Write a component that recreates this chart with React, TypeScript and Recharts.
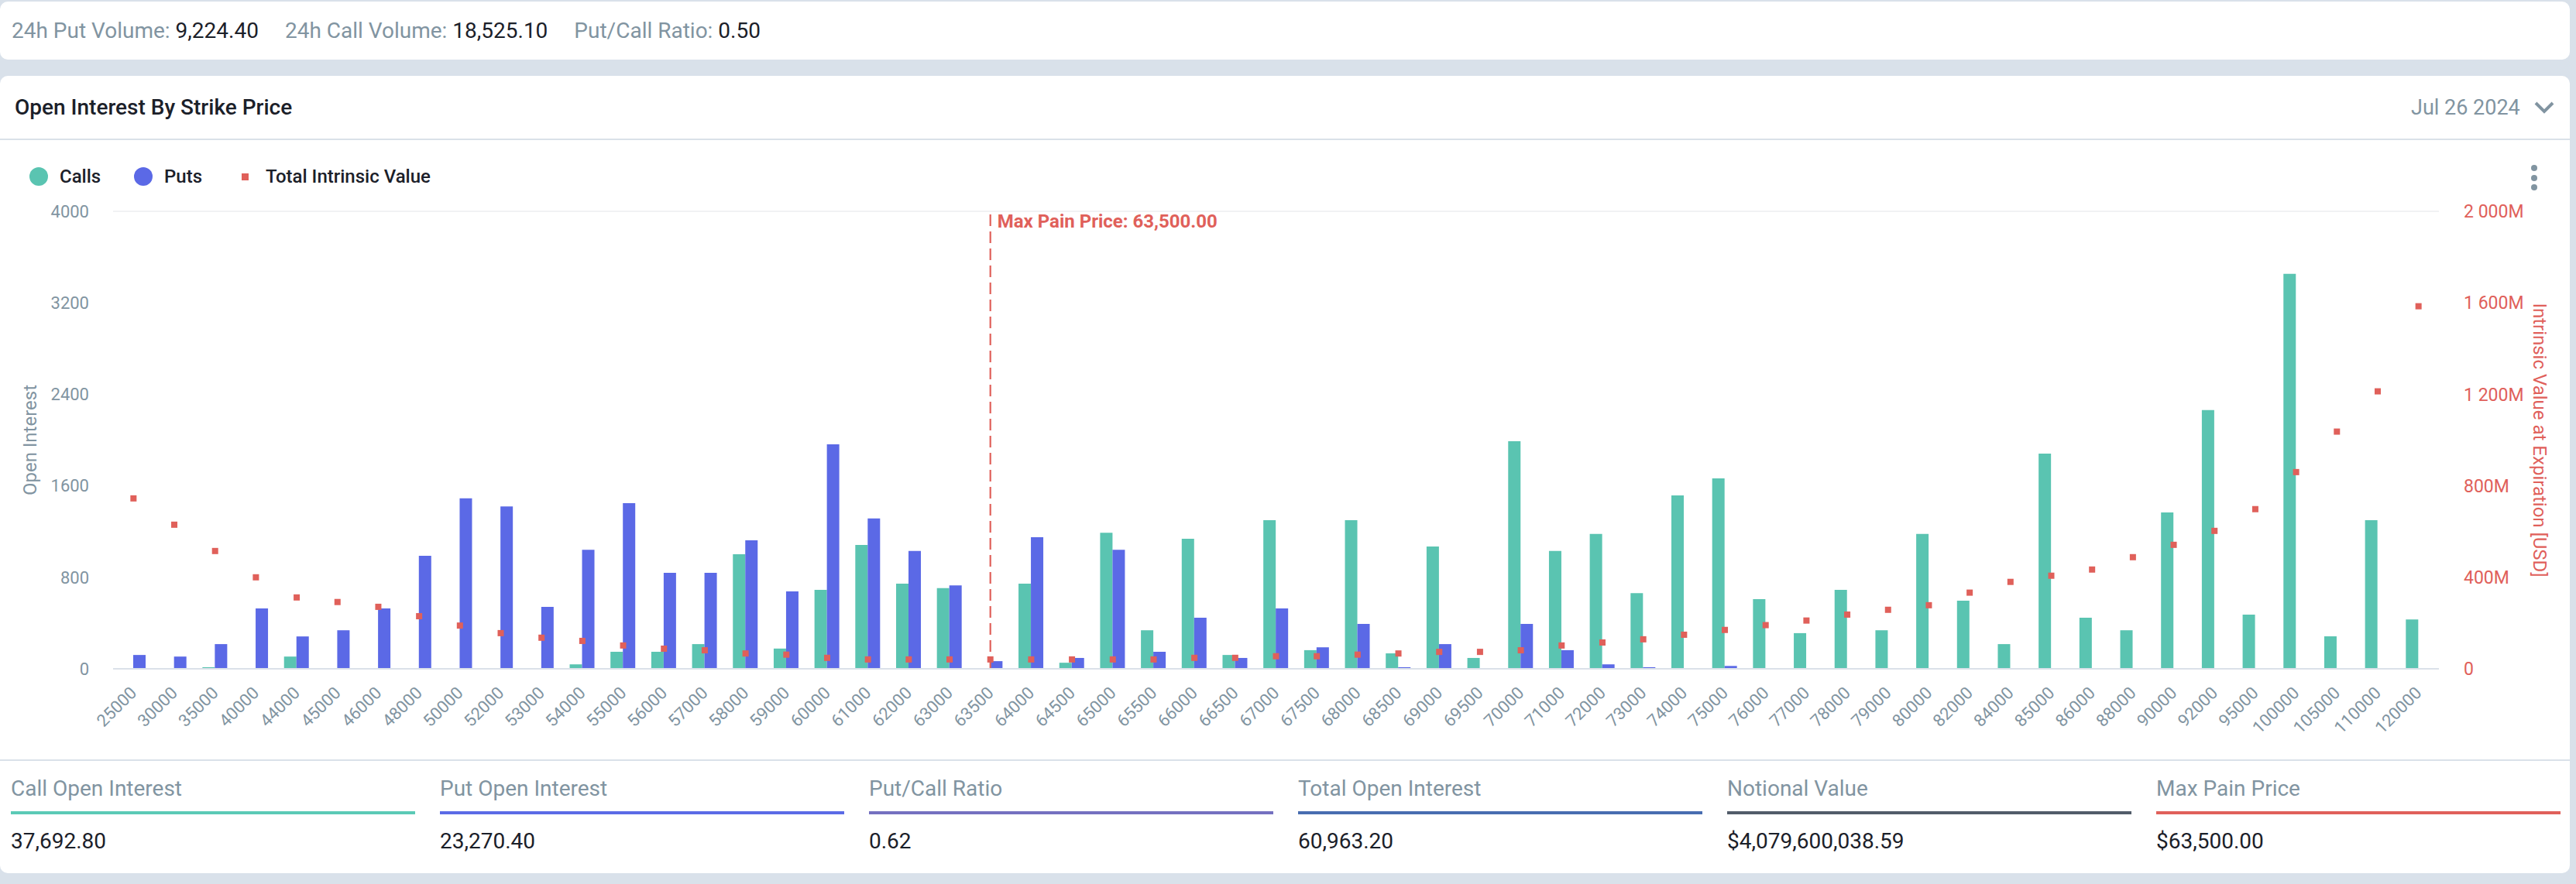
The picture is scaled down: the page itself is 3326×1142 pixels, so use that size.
import React from 'react';
import {
  ComposedChart,
  Bar,
  Scatter,
  XAxis,
  YAxis,
  CartesianGrid,
  ReferenceLine,
} from 'recharts';

const strikes = [
  '25000', '30000', '35000', '40000', '44000', '45000', '46000', '48000', '50000', '52000',
  '53000', '54000', '55000', '56000', '57000', '58000', '59000', '60000', '61000', '62000',
  '63000', '63500', '64000', '64500', '65000', '65500', '66000', '66500', '67000', '67500',
  '68000', '68500', '69000', '69500', '70000', '71000', '72000', '73000', '74000', '75000',
  '76000', '77000', '78000', '79000', '80000', '82000', '84000', '85000', '86000', '88000',
  '90000', '92000', '95000', '100000', '105000', '110000', '120000',
];

const calls = [
  0, 0, 14, 0, 107, 0, 0, 0, 0, 0,
  0, 39, 149, 149, 216, 1002, 177, 690, 1083, 744,
  705, 0, 744, 53, 1190, 337, 1137, 121, 1300, 163,
  1300, 135, 1069, 95, 1990, 1030, 1179, 662, 1516, 1665,
  609, 312, 690, 337, 1179, 595, 216, 1881, 446, 337,
  1367, 2262, 474, 3453, 284, 1300, 432,
];

const puts = [
  121, 107, 216, 528, 283, 337, 528, 988, 1490, 1420,
  542, 1041, 1448, 839, 839, 1123, 676, 1962, 1314, 1030,
  730, 67, 1151, 95, 1041, 149, 446, 95, 528, 188,
  393, 14, 216, 0, 393, 163, 39, 14, 0, 25,
  0, 0, 0, 0, 0, 0, 0, 0, 0, 0,
  0, 0, 0, 0, 0, 0, 0,
];

// total intrinsic value, in millions of USD
const intrinsic = [
  745, 630, 515, 400, 312, 292, 271, 230, 189, 156,
  136, 122, 102, 88, 81, 67, 62, 48, 41, 41,
  41, 41, 41, 41, 41, 41, 48, 48, 55, 55,
  62, 67, 74, 74, 81, 102, 115, 129, 149, 170,
  191, 211, 237, 258, 278, 333, 380, 407, 434, 488,
  542, 603, 698, 860, 1037, 1213, 1585,
];

const leftTicks = [0, 800, 1600, 2400, 3200, 4000];
const rightTicks = [0, 400, 800, 1200, 1600, 2000];

const topStats = [
  { label: '24h Put Volume:', value: '9,224.40' },
  { label: '24h Call Volume:', value: '18,525.10' },
  { label: 'Put/Call Ratio:', value: '0.50' },
];

const summary = [
  { label: 'Call Open Interest', value: '37,692.80', color: '#5bcab6' },
  { label: 'Put Open Interest', value: '23,270.40', color: '#5b6be6' },
  { label: 'Put/Call Ratio', value: '0.62', color: '#7470c0' },
  { label: 'Total Open Interest', value: '60,963.20', color: '#486db0' },
  { label: 'Notional Value', value: '$4,079,600,038.59', color: '#525c6a' },
  { label: 'Max Pain Price', value: '$63,500.00', color: '#e0605a' },
];

const MAX_PAIN = '63500';

const data = strikes.map((s, i) => ({
  strike: s,
  calls: calls[i],
  puts: puts[i],
  intrinsic: intrinsic[i],
}));

const GREEN = '#5ac4b1';
const BLUE = '#5b69e6';
const RED = '#e0605a';
const GRAY = '#8194a1';
const DARK = '#1b2029';

const fmtMillions = (v: number) =>
  v === 0 ? '0' : String(v).replace(/\B(?=(\d{3})+(?!\d))/g, ' ') + 'M';

const XTick = (props: any) => {
  const { x, y, payload } = props;
  return (
    <text
      x={x}
      y={y}
      dy="0.35em"
      textAnchor="end"
      fill={GRAY}
      fontSize={22}
      transform={`rotate(-45 ${x} ${y})`}
    >
      {payload.value}
    </text>
  );
};

const SquareDot = (props: any) => {
  const { cx, cy } = props;
  if (cx == null || cy == null) return null;
  return <rect x={cx - 4} y={cy - 4} width={8} height={8} fill={RED} />;
};

const MaxPainLabel = (props: any) => {
  const { viewBox } = props;
  return (
    <text
      x={viewBox.x + 9}
      y={viewBox.y + 13}
      dominantBaseline="central"
      fill={RED}
      fontSize={24}
      fontWeight={700}
    >
      Max Pain Price: 63,500.00
    </text>
  );
};

export default function App() {
  return (
    <div
      style={{
        position: 'relative',
        width: 3326,
        height: 1142,
        background: '#d9e1ea',
        fontFamily: 'Roboto, sans-serif',
        overflow: 'hidden',
      }}
    >
      <style>{'body{margin:0}'}</style>

      {/* volume strip */}
      <div
        style={{
          position: 'absolute',
          left: 0,
          top: 2,
          width: 3318,
          height: 75,
          background: '#fff',
          borderRadius: 10,
          display: 'flex',
          alignItems: 'center',
          paddingLeft: 15,
          gap: 34,
          fontSize: 28,
          boxSizing: 'border-box',
        }}
      >
        {topStats.map((s) => (
          <span key={s.label}>
            <span style={{ color: GRAY }}>{s.label} </span>
            <span style={{ color: DARK }}>{s.value}</span>
          </span>
        ))}
      </div>

      {/* main card */}
      <div
        style={{
          position: 'absolute',
          left: 0,
          top: 98,
          width: 3318,
          height: 1030,
          background: '#fff',
          borderRadius: 10,
        }}
      >
        <div
          style={{
            position: 'absolute',
            left: 19,
            top: 0,
            height: 81,
            display: 'flex',
            alignItems: 'center',
            fontSize: 28,
            fontWeight: 500,
            color: DARK,
          }}
        >
          Open Interest By Strike Price
        </div>
        <div
          style={{
            position: 'absolute',
            left: 3113,
            top: 0,
            height: 81,
            display: 'flex',
            alignItems: 'center',
            fontSize: 27,
            color: GRAY,
          }}
        >
          Jul 26 2024
        </div>
        <svg style={{ position: 'absolute', left: 3272, top: 32 }} width={26} height={18}>
          <polyline points="2,3 13,14 24,3" fill="none" stroke={GRAY} strokeWidth={4} />
        </svg>
        <div style={{ position: 'absolute', left: 0, top: 81, width: 3318, height: 2, background: '#dae1e9' }} />

        {/* legend */}
        <div style={{ position: 'absolute', left: 0, top: 115, height: 30, width: 600, fontSize: 24, fontWeight: 500, color: DARK }}>
          <span style={{ position: 'absolute', left: 38, top: 3, width: 24, height: 24, borderRadius: 12, background: GREEN }} />
          <span style={{ position: 'absolute', left: 77, top: 0, lineHeight: '30px' }}>Calls</span>
          <span style={{ position: 'absolute', left: 173, top: 3, width: 24, height: 24, borderRadius: 12, background: BLUE }} />
          <span style={{ position: 'absolute', left: 212, top: 0, lineHeight: '30px' }}>Puts</span>
          <span style={{ position: 'absolute', left: 312, top: 11, width: 9, height: 9, background: RED }} />
          <span style={{ position: 'absolute', left: 343, top: 0, lineHeight: '30px' }}>Total Intrinsic Value</span>
        </div>
        <svg style={{ position: 'absolute', left: 3266, top: 113 }} width={12} height={38}>
          <circle cx={6} cy={6} r={4} fill={GRAY} />
          <circle cx={6} cy={19} r={4} fill={GRAY} />
          <circle cx={6} cy={31} r={4} fill={GRAY} />
        </svg>

        <div style={{ position: 'absolute', left: 0, top: 83 }}>
          <ComposedChart
            width={3318}
            height={798}
            data={data}
            margin={{ top: 92, right: 0, bottom: 0, left: 0 }}
            barGap={0}
          >
            <CartesianGrid vertical={false} stroke="#eceef1" strokeWidth={1.5} />
            <XAxis
              dataKey="strike"
              interval={0}
              height={115}
              tick={<XTick />}
              tickLine={false}
              tickSize={0}
              tickMargin={27}
              axisLine={{ stroke: '#dbe1e9', strokeWidth: 2 }}
            />
            <YAxis
              yAxisId="left"
              width={146}
              domain={[0, 4000]}
              ticks={leftTicks}
              tickLine={false}
              axisLine={false}
              tickSize={0}
              tickMargin={31}
              tick={{ fill: GRAY, fontSize: 22 }}
              label={{ value: 'Open Interest', angle: -90, position: 'insideLeft', offset: 38, fill: GRAY, fontSize: 24, style: { textAnchor: 'middle' } }}
            />
            <YAxis
              yAxisId="right"
              orientation="right"
              width={169}
              domain={[0, 2000]}
              ticks={rightTicks}
              tickFormatter={fmtMillions}
              tickLine={false}
              axisLine={false}
              tickSize={0}
              tickMargin={32}
              tick={{ fill: RED, fontSize: 23 }}
              label={{ value: 'Intrinsic Value at Expiration [USD]', angle: 90, position: 'insideRight', offset: 38, fill: RED, fontSize: 24, style: { textAnchor: 'middle' } }}
            />
            <Bar yAxisId="left" dataKey="calls" fill={GREEN} barSize={16} isAnimationActive={false} />
            <Bar yAxisId="left" dataKey="puts" fill={BLUE} barSize={16} isAnimationActive={false} />
            <Scatter yAxisId="right" dataKey="intrinsic" fill={RED} shape={<SquareDot />} isAnimationActive={false} />
            <ReferenceLine
              yAxisId="left"
              x={MAX_PAIN}
              stroke={RED}
              strokeWidth={2.2}
              strokeDasharray="15 7"
              label={<MaxPainLabel />}
            />
          </ComposedChart>
        </div>

        <div style={{ position: 'absolute', left: 0, top: 883, width: 3318, height: 2, background: '#dae1e9' }} />

        {summary.map((s, i) => (
          <div key={s.label} style={{ position: 'absolute', left: 14 + i * 554, top: 885, width: 522 }}>
            <div style={{ position: 'absolute', left: 0, top: 19, lineHeight: '34px', fontSize: 28, color: GRAY, whiteSpace: 'nowrap' }}>
              {s.label}
            </div>
            <div style={{ position: 'absolute', left: 0, top: 65, width: 522, height: 4, background: s.color }} />
            <div style={{ position: 'absolute', left: 0, top: 86, lineHeight: '36px', fontSize: 28, color: DARK, whiteSpace: 'nowrap' }}>
              {s.value}
            </div>
          </div>
        ))}
      </div>
    </div>
  );
}
